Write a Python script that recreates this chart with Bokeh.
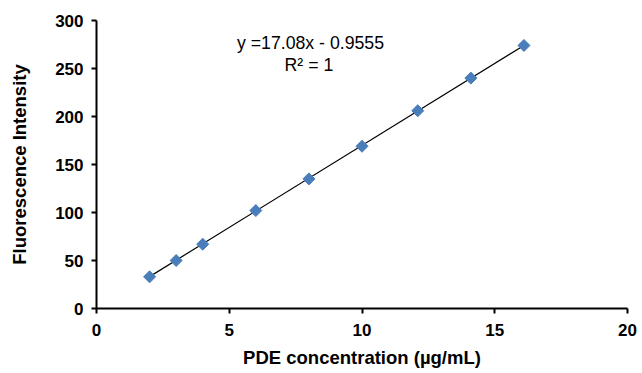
import numpy as np
from bokeh.plotting import figure
from bokeh.models import Range1d, FixedTicker, Label
from bokeh.embed import file_html
from bokeh.resources import INLINE

conc = [2, 3, 4, 6, 8, 10, 12.1, 14.1, 16.1]
intensity = [33, 50, 67, 102, 135, 169, 206, 240, 274]
slope = 17.08
intercept = -0.9555
x_ticks = [0, 5, 10, 15, 20]
y_ticks = [0, 50, 100, 150, 200, 250, 300]

p = figure(width=640, height=370, output_backend="svg", toolbar_location=None,
           x_range=Range1d(0, 20), y_range=Range1d(0, 300),
           min_border_left=96, min_border_right=13, min_border_top=20, min_border_bottom=61)
p.outline_line_color = None
p.xgrid.visible = False
p.ygrid.visible = False

fit_x = np.array([min(conc), max(conc)])
fit_y = slope * fit_x + intercept
p.line(fit_x, fit_y, line_color="black", line_width=1.2)
p.scatter(conc, intensity, marker="square", size=8.5, angle=np.pi / 4,
          fill_color="#4A7EBB", line_color="#4A7EBB")

for ax, ticks in ((p.xaxis, x_ticks), (p.yaxis, y_ticks)):
    ax.ticker = FixedTicker(ticks=ticks)
    ax.minor_tick_line_color = None
    ax.axis_line_color = "black"
    ax.axis_line_width = 2
    ax.major_tick_line_color = "black"
    ax.major_tick_line_width = 2
    ax.major_tick_in = 0
    ax.major_tick_out = 5
    ax.major_label_text_font = "Liberation Sans"
    ax.major_label_text_font_style = "bold"
    ax.major_label_text_font_size = "17px"
    ax.major_label_text_color = "black"
    ax.axis_label_text_font = "Liberation Sans"
    ax.axis_label_text_font_style = "bold"
    ax.axis_label_text_font_size = "18.5px"
    ax.axis_label_text_color = "black"

p.xaxis.axis_label = "PDE concentration (µg/mL)"
p.yaxis.axis_label = "Fluorescence Intensity"
p.xaxis.major_label_standoff = 10
p.yaxis.major_label_standoff = 8
p.xaxis.axis_label_standoff = 8
p.yaxis.axis_label_standoff = 22

p.add_layout(Label(x=8.06, y=277, text="y =17.08x - 0.9555", text_font="Liberation Sans",
                   text_font_size="17.7px", text_align="center", text_baseline="middle",
                   text_color="black"))
p.add_layout(Label(x=8.0, y=254, text="R² = 1", text_font="Liberation Sans",
                   text_font_size="17.7px", text_align="center", text_baseline="middle",
                   text_color="black"))

open("out.html", "w").write(file_html(p, INLINE))
